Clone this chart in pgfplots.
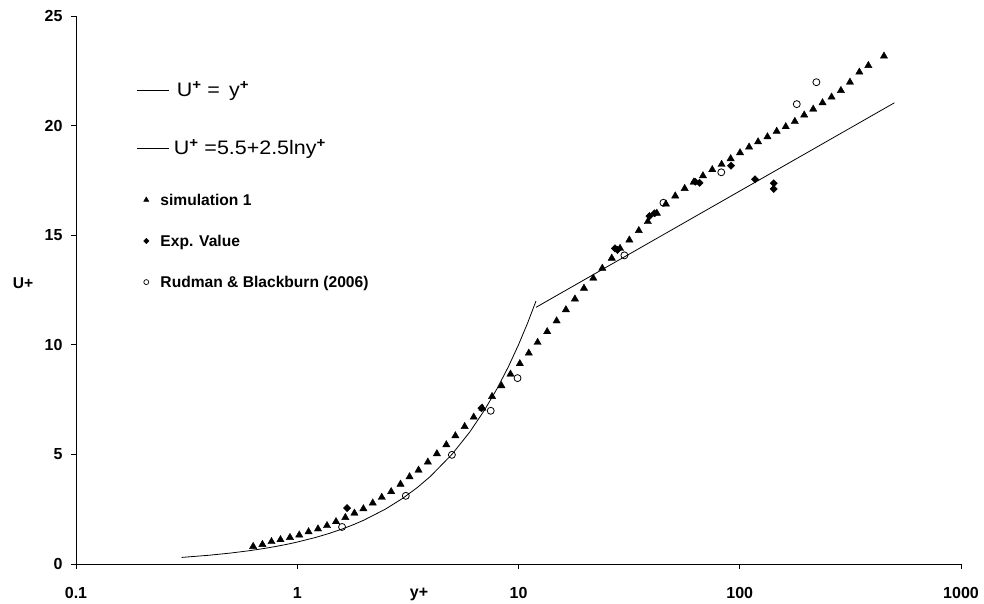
\documentclass[border=0pt]{standalone}
\usepackage{fontspec}
\setmainfont{Liberation Sans}
\newfontfamily\legfont[FakeStretch=1.1]{Liberation Sans}
\usepackage{pgfplots}
\pgfplotsset{compat=1.18}
\begin{document}
\begin{tikzpicture}
\useasboundingbox (-76pt,-39pt) rectangle (908pt,564pt);
\begin{axis}[
  at={(0pt,0pt)}, anchor=south west,
  scale only axis, width=885pt, height=548pt,
  xmode=log, xmin=0.1, xmax=1000, ymin=0, ymax=25,
  axis x line*=bottom, axis y line*=left,
  axis line style={line width=0.9pt, -},
  tick align=outside, major tick length=5pt,
  tick style={line width=0.9pt, black},
  xtick={0.1,1,10,100,1000}, xticklabels={0.1,1,10,100,1000},
  xminorticks=false,
  ytick={0,5,10,15,20,25}, yticklabels={0,5,10,15,20,25},
  ticklabel style={font=\fontsize{16}{19}\selectfont\bfseries},
  xticklabel style={yshift=-15pt},
  yticklabel style={xshift=-5pt},
  xlabel={y+}, xlabel style={font=\fontsize{16}{19}\selectfont\bfseries, at={(axis description cs:0.3876,-0.0557)}, anchor=center},
  ylabel={U+}, ylabel style={font=\fontsize{15.6}{19}\selectfont\bfseries, rotate=-90, at={(axis description cs:-0.0599,0.512)}, anchor=center},
  legend style={draw=none, fill=none, at={(axis description cs:0.0689,0.812)}, anchor=west,
    inner sep=0pt, outer sep=0pt, row sep=44.4pt, column sep=2pt,
    font=\legfont\fontsize{19.5}{22}\selectfont,
    nodes={inner sep=0pt, text height=13.6pt, text depth=0pt}},
  legend cell align=left,
  legend image code/.code={\draw[#1] (0pt,0pt) -- (32pt,0pt);},
]
\addplot[black, line width=0.8pt] coordinates {
(0.3,0.3) (0.4,0.4) (0.5,0.5) (0.6,0.6) (0.7,0.7) (0.8,0.8) (0.9,0.9) (1,1) (1.2,1.2) (1.4,1.4) (1.6,1.6) (1.8,1.8) (2,2) (2.5,2.5) (3,3) (3.5,3.5) (4,4) (5,5) (6,6) (7,7) (8,8) (9,9) (10,10) (11,11) (12,12)};
\addlegendentry{\hspace{5pt}U\textsuperscript{\textbf{+}} =\ \,y\textsuperscript{\textbf{+}}}
\addplot[black, line width=0.8pt] coordinates {(12,11.71) (500,21.04)};
\addlegendentry{\hspace{2pt}U\textsuperscript{\textbf{+}} =5.5+2.5lny\textsuperscript{\textbf{+}}}

\addplot[only marks, mark=triangle*, mark size=4.2pt, black, forget plot] coordinates {
(0.632,0.80) (0.696,0.89) (0.765,1.02) (0.840,1.11) (0.927,1.21) (1.021,1.32) (1.125,1.47) (1.241,1.60) (1.363,1.75) (1.497,1.93)
(1.650,2.12) (1.813,2.32) (1.991,2.52) (2.194,2.78) (2.410,3.04) (2.658,3.30) (2.929,3.64) (3.218,3.98) (3.534,4.28) (3.894,4.65)
(4.277,5.03) (4.718,5.44) (5.183,5.85) (5.710,6.27) (6.273,6.70) (6.868,7.11) (7.595,7.64) (8.375,8.13) (9.200,8.66) (10.14,9.14)
(11.13,9.62) (12.20,10.11) (13.48,10.60) (14.87,11.09) (16.38,11.60) (17.99,12.09) (19.77,12.58) (21.78,13.04) (23.92,13.49) (26.39,13.95)
(28.77,14.40) (31.70,14.78) (34.98,15.21) (38.41,15.62) (42.20,16.00) (46.37,16.42) (51.09,16.79) (56.38,17.13) (61.94,17.42) (68.19,17.71)
(75.12,17.99) (82.79,18.23) (90.95,18.49) (100.3,18.76) (110.2,19.02) (121.0,19.26) (133.4,19.49) (146.9,19.74) (161.4,19.95) (177.4,20.19)
(195.6,20.48) (214.8,20.75) (236.7,21.04) (260.0,21.30) (286.5,21.60) (314.8,21.98) (347.2,22.44) (381.4,22.74) (448.5,23.17)};
\addplot[only marks, mark=square*, mark size=2.6pt, mark options={rotate=45}, black, forget plot] coordinates {
(1.68,2.55) (6.80,7.11) (27.3,14.40) (28.0,14.33) (39.1,15.87) (41.2,16.00) (62.9,17.44) (65.8,17.39) (91.3,18.17) (117.3,17.55) (142.4,17.37) (142.4,17.11)};
\addplot[only marks, mark=o, mark size=3.5pt, black, mark options={fill=white, line width=0.8pt}, forget plot] coordinates {
(1.594,1.69) (3.095,3.11) (5.0,4.98) (7.49,6.99) (9.9,8.48) (30.1,14.08) (45.2,16.48) (82.5,17.87) (181,20.98) (222,21.98)};
\end{axis}
\begin{axis}[
  at={(0pt,0pt)}, anchor=south west,
  scale only axis, width=885pt, height=548pt,
  xmode=log, xmin=0.1, xmax=1000, ymin=0, ymax=25,
  hide axis,
  legend style={draw=none, fill=none, at={(axis description cs:0.0764,0.5894)}, anchor=west,
    inner sep=0pt, outer sep=0pt, row sep=30pt, column sep=11.5pt,
    font=\fontsize{15.6}{19}\selectfont\bfseries,
    nodes={inner sep=0pt, text height=11.1pt, text depth=0pt}},
  legend cell align=left,
  legend image code/.code={\draw[#1] plot coordinates {(0pt,0pt)};},
]
\addlegendimage{mark=triangle*, mark size=3pt, black}
\addlegendentry{simulation 1}
\addlegendimage{mark=square*, mark size=1.9pt, mark options={rotate=45}, black}
\addlegendentry{Exp. Value}
\addlegendimage{mark=o, mark size=2.5pt, black, mark options={fill=white, line width=0.7pt}}
\addlegendentry{Rudman \& Blackburn (2006)}
\end{axis}
\end{tikzpicture}
\end{document}
